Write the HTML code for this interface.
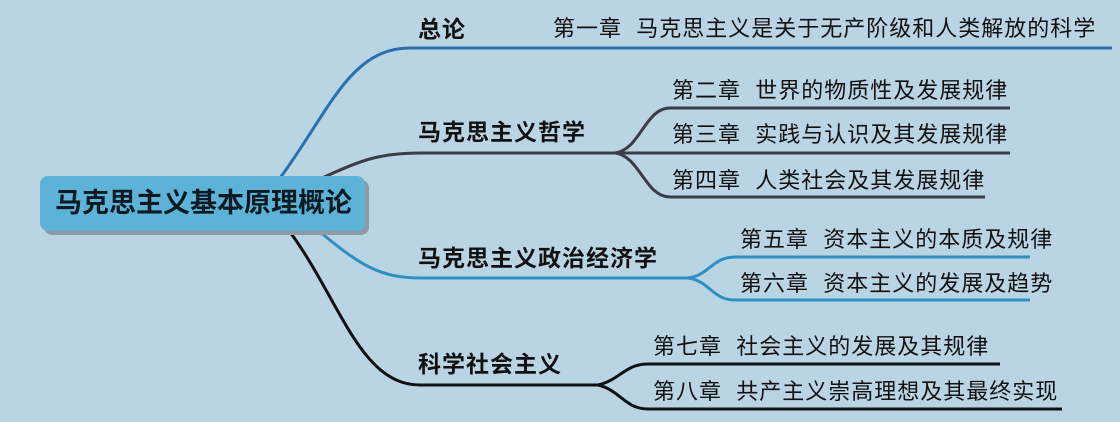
<!DOCTYPE html>
<html><head><meta charset="utf-8"><style>
body{margin:0;width:1120px;height:422px;background:#b9d4e2;overflow:hidden;position:relative;font-family:"Liberation Sans","Noto Sans CJK SC",sans-serif;color:#111}
.t{position:absolute;white-space:nowrap;font-size:22px;line-height:1;letter-spacing:1px}
.b{font-weight:bold;font-size:23px;letter-spacing:1px}
.box{position:absolute;left:40px;top:176px;width:325px;height:55px;background:#5cb3d7;border-radius:8px;box-shadow:4px 4px 0 #8f9aa3;font-size:27px;line-height:55px;padding-left:15px;box-sizing:border-box;font-weight:bold;color:#0d1a22;white-space:nowrap}
</style></head><body>
<svg width="1120" height="422" style="position:absolute;left:0;top:0" fill="none" stroke-width="3">
<path d="M280 178 C330 110,350 48,410 48 L1112 48" stroke="#2a6fb0"/>
<path d="M318 180 C360 160,380 153,420 153 L615 153" stroke="#3a3d48"/>
<path d="M615 153 C640 150,645 108,670 108 L1010 108 M615 153 L1010 153 M615 153 C640 156,645 197,670 197 L985 197" stroke="#3a3d48"/>
<path d="M320 232 C360 265,380 278,420 278 L688 278" stroke="#2f8fc4"/>
<path d="M688 278 C710 275,712 257,735 257 L1030 257 M688 278 C710 281,712 300,735 300 L1030 300" stroke="#2f8fc4"/>
<path d="M290 232 C340 300,360 385,420 385 L598 385" stroke="#111"/>
<path d="M598 385 C620 380,625 364,648 364 L1000 364 M598 385 C620 390,625 409,648 409 L1062 409" stroke="#111"/>
</svg>
<div class="box">马克思主义基本原理概论</div>
<div class="t b" style="left:418px;top:18px">总论</div>
<div class="t" style="left:553px;top:18px">第一章 &nbsp;马克思主义是关于无产阶级和人类解放的科学</div>
<div class="t b" style="left:418px;top:121px">马克思主义哲学</div>
<div class="t" style="left:672px;top:80px">第二章 &nbsp;世界的物质性及发展规律</div>
<div class="t" style="left:672px;top:124px">第三章 &nbsp;实践与认识及其发展规律</div>
<div class="t" style="left:672px;top:170px">第四章 &nbsp;人类社会及其发展规律</div>
<div class="t b" style="left:418px;top:247px">马克思主义政治经济学</div>
<div class="t" style="left:740px;top:229px">第五章 &nbsp;资本主义的本质及规律</div>
<div class="t" style="left:740px;top:273px">第六章 &nbsp;资本主义的发展及趋势</div>
<div class="t b" style="left:418px;top:353px">科学社会主义</div>
<div class="t" style="left:653px;top:336px">第七章 &nbsp;社会主义的发展及其规律</div>
<div class="t" style="left:653px;top:381px">第八章 &nbsp;共产主义崇高理想及其最终实现</div>
</body></html>
